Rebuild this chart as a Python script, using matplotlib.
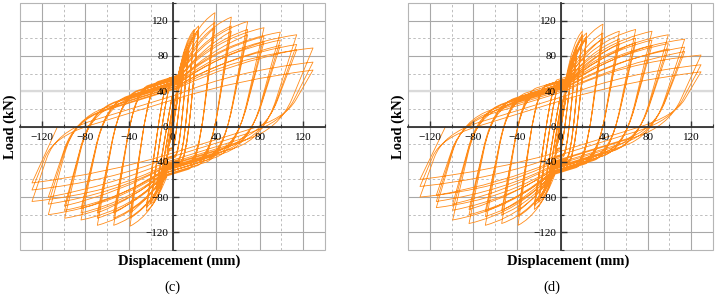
import matplotlib
matplotlib.use("Agg")
import matplotlib.pyplot as plt
from matplotlib.path import Path
from matplotlib.patches import PathPatch, Rectangle

# displacement amplitudes (mm) of the loading levels, same for both specimens
AMP = [5, 10, 15, 20, 24, 39, 54, 69, 84, 99, 114, 129]

# peak loads (kN) of the three cycles at every level
C_POS_PEAK = [[35, 33, 32], [65, 62, 60], [92, 88, 86], [110, 106, 104], [114, 110, 108],
              [129, 118, 112], [124, 114, 108], [119, 110, 104], [112, 102, 96],
              [107, 98, 92], [104, 93, 87], [89, 73, 64]]
C_NEG_PEAK = [[30, 28, 27], [55, 52, 50], [75, 72, 70], [88, 85, 83], [96, 92, 90],
              [113, 104, 98], [112, 104, 98], [112, 104, 98], [106, 98, 93],
              [104, 95, 90], [100, 88, 80], [85, 72, 64]]
C_POS_PINCH = [52, 52, 54, 56, 57, 58, 57, 56, 54, 52, 50, 48]
C_NEG_PINCH = [50, 50, 52, 54, 55, 56, 55, 54, 52, 50, 48, 46]

D_POS_PEAK = [[34, 32, 31], [62, 60, 58], [90, 86, 84], [108, 104, 102], [106, 102, 100],
              [116, 106, 100], [108, 99, 94], [110, 100, 95], [108, 98, 92],
              [104, 94, 88], [99, 90, 85], [81, 70, 62]]
D_NEG_PEAK = [[30, 28, 27], [55, 52, 50], [74, 71, 69], [86, 83, 81], [94, 90, 88],
              [112, 102, 96], [110, 100, 95], [112, 102, 96], [110, 100, 94],
              [106, 95, 88], [92, 85, 78], [80, 68, 60]]
D_POS_PINCH = [50, 50, 52, 54, 55, 56, 55, 54, 52, 50, 48, 46]
D_NEG_PINCH = [48, 48, 50, 52, 53, 54, 53, 52, 50, 48, 46, 44]

TICKS = [-120, -80, -40, 0, 40, 80, 120]
MINOR = [-140, -100, -60, -20, 20, 60, 100, 140]

ORANGE = '#ff8c1a'
SERIF = 'Liberation Serif'
KG = 0.38        # slope of the branch running into the pinch point
RELOAD = [(0.40, 0.78), (0.42, 0.72), (0.45, 0.66)]   # shape of the reloading hump
XP = 5.0


def half(a, pinch, b, u, shape):
    # one half cycle, drawn as if moving towards +x
    xa, ya = a
    xp, yp = pinch
    xb, yb = b
    seg = []
    k1 = -ya / u
    kx = (yp - KG * xp - ya + k1 * xa) / (k1 - KG)
    if kx < xp - 2:
        ky = yp + KG * (kx - xp)
        s1 = (xa + 0.62 * (kx - xa), ya + 0.62 * (ky - ya))
        s2 = (kx + 0.3 * (xp - kx), ky + 0.3 * (yp - ky))
        seg += [(s1, Path.LINETO), ((kx, ky), Path.CURVE3), (s2, Path.CURVE3),
                ((xp, yp), Path.LINETO)]
    else:
        seg += [((xp, yp), Path.LINETO)]
    fa, fb = shape
    if xb - xp > 12:
        cx = xp + fa * (xb - xp)
        cy = yp + fb * (yb - yp)
        seg += [((cx, cy), Path.CURVE3), ((xb, yb), Path.CURVE3)]
    else:
        seg += [((xb, yb), Path.LINETO)]
    return seg


def u_pos(d):
    return min(0.2 * d + 4, 0.7 * d)


def u_neg(d):
    return min(0.12 * d + 8, 0.7 * d)


def build(pos_peak, neg_peak, pos_pinch, neg_pinch):
    cyc = []
    for i, d in enumerate(AMP):
        for j in range(3):
            cyc.append((i, j, d, pos_peak[i][j], neg_peak[i][j]))
    verts = [(0, 0), (cyc[0][2], cyc[0][3])]
    codes = [Path.MOVETO, Path.LINETO]
    for n, (i, j, d, fp, fn) in enumerate(cyc):
        # positive peak -> negative peak (mirrored frame)
        pin = (min(XP, 0.3 * d), min(neg_pinch[i], 0.5 * fn))
        seg = half((-d, -fp), pin, (d, fn), u_pos(d), RELOAD[j])
        for (x, y), c in seg:
            verts.append((-x, -y))
            codes.append(c)
        if n + 1 < len(cyc):
            i2, j2, d2, fp2, fn2 = cyc[n + 1]
            pin = (min(XP, 0.3 * d2), min(pos_pinch[i2], 0.5 * fp2))
            seg = half((-d, -fn), pin, (d2, fp2), u_neg(d), RELOAD[j2])
            for (x, y), c in seg:
                verts.append((x, y))
                codes.append(c)
        else:
            verts.append((-d + u_neg(d), 0))
            codes.append(Path.LINETO)
    return Path(verts, codes)


fig = plt.figure(figsize=(7.2, 2.99), dpi=100)

panels = [
    (20, C_POS_PEAK, C_NEG_PEAK, C_POS_PINCH, C_NEG_PINCH, 10, 179, 172, '(c)'),
    (408, D_POS_PEAK, D_NEG_PEAK, D_POS_PINCH, D_NEG_PINCH, 398, 568, 552, '(d)'),
]

for left, pp, pn, ppin, npin, lx, dx, tx, tag in panels:
    ax = fig.add_axes([left / 720, 1 - 250 / 299, 305 / 720, 247 / 299])
    ax.set_xlim(-140, 140)
    ax.set_ylim(-140, 140)
    ax.set_axisbelow(False)

    # grid drawn by hand so the tick labels stay above the curves
    for v in TICKS:
        ax.axvline(v, color='#a8a8a8', lw=0.8, zorder=0.3)
        ax.axhline(v, color='#a8a8a8', lw=0.8, zorder=0.3)
    for v in MINOR:
        ax.axvline(v, color='#bdbdbd', lw=0.7, ls=(0, (2.5, 2.5)), zorder=0.3)
        ax.axhline(v, color='#bdbdbd', lw=0.7, ls=(0, (2.5, 2.5)), zorder=0.3)
    ax.axhline(40, color='#dadada', lw=1.6, zorder=0.4)

    ax.spines['left'].set_position('zero')
    ax.spines['bottom'].set_position('zero')
    ax.spines['right'].set_visible(False)
    ax.spines['top'].set_visible(False)
    for s in ['left', 'bottom']:
        ax.spines[s].set_color('#333333')
        ax.spines[s].set_linewidth(1.3)
        ax.spines[s].set_zorder(2.6)
    ax.add_patch(Rectangle((0, 0), 1, 1, transform=ax.transAxes, fill=False,
                           ec='#b5b5b5', lw=0.8, clip_on=False, zorder=0.5))

    ax.set_xticks(TICKS)
    ax.set_yticks(TICKS)
    ax.set_xticks(MINOR, minor=True)
    ax.set_yticks(MINOR, minor=True)
    ax.tick_params(which='major', direction='in', length=4, width=1.0,
                   color='#333333', labelsize=8, pad=3)
    ax.tick_params(axis='x', which='major', pad=5)
    ax.tick_params(which='minor', direction='in', length=2, width=0.8, color='#333333')
    for lab in ax.get_xticklabels() + ax.get_yticklabels():
        lab.set_fontfamily(SERIF)

    ax.add_patch(PathPatch(build(pp, pn, ppin, npin), fill=False, ec=ORANGE,
                           lw=0.6, joinstyle='round', zorder=2))

    fig.text(lx / 720, 1 - 127 / 299, 'Load (kN)', rotation=90, ha='center',
             va='center', fontsize=10.5, fontweight='bold', family=SERIF)
    fig.text(dx / 720, 1 - 261 / 299, 'Displacement (mm)', ha='center',
             va='center', fontsize=10.5, fontweight='bold', family=SERIF)
    fig.text(tx / 720, 1 - 287 / 299, tag, ha='center', va='center',
             fontsize=10.5, family=SERIF)

fig.savefig('out.png', dpi=100)
